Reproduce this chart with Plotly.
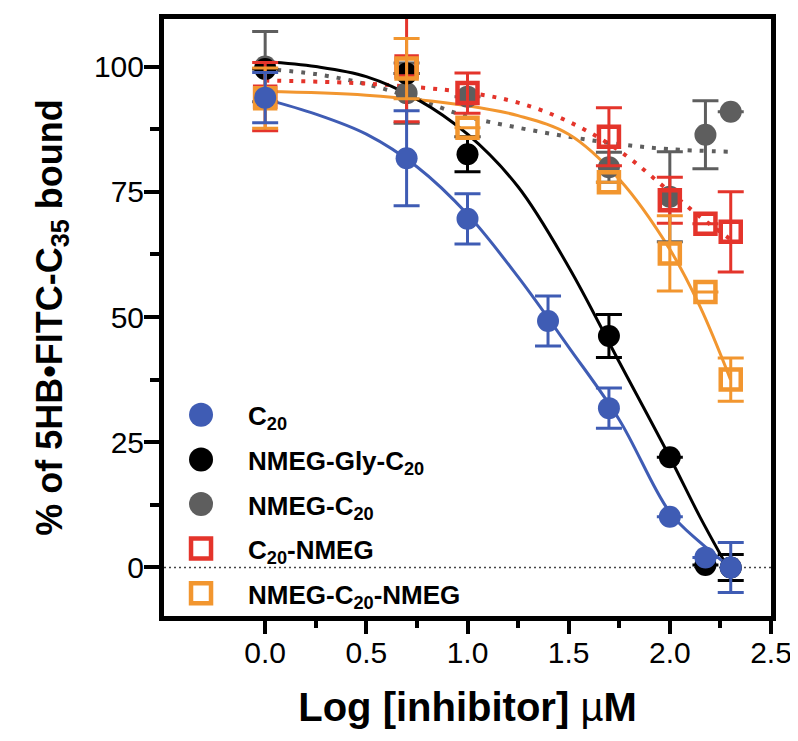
import plotly.graph_objects as go

# log concentrations (uM)
x_c20 = [0.0, 0.699, 1.0, 1.398, 1.699, 2.0, 2.176, 2.301]
x_other = [0.0, 0.699, 1.0, 1.699, 2.0, 2.176, 2.301]

# measured % bound and error
c20_y = [93.8, 81.7, 69.6, 49.2, 31.8, 10.1, 2.0, 0.0]
c20_err = [5, 9.5, 5, 5, 4, None, None, 5]
gly_y = [99.5, 98.6, 82.5, 46.2, 22.0, 0.5, 0.0]
gly_err = [None, None, 3.5, 4.3, None, None, 2.6]
nmeg_c20_y = [100.0, 94.7, 94.0, 79.9, 74.0, 86.4, 91.0]
nmeg_c20_err = [7, 6, None, 3, 9, 6.8, None]
c20_nmeg_y = [94.0, 100.0, 94.7, 86.0, 73.3, 68.6, 67.0]
c20_nmeg_err = [6.8, 11, 4, 5.8, 4.6, None, 8]
both_y = [93.7, 99.6, 87.8, 76.9, 62.7, 55.0, 37.5]
both_err = [6, 6, None, None, 7.5, None, 4.3]

# fitted curves
fit_x11 = [0, 0.25, 0.5, 0.75, 1.0, 1.25, 1.5, 1.75, 2.0, 2.15, 2.3]
fit_c20 = [93.5, 90.5, 86.5, 80.0, 70.5, 58.0, 44.0, 29.5, 11.0, 5.0, 0.0]
fit_gly = [101, 100, 98, 93.5, 86.5, 76, 60, 41, 22, 10, -1]
fit_x10 = [0, 0.25, 0.5, 0.75, 1.0, 1.25, 1.5, 1.75, 2.0, 2.3]
fit_nmeg_c20 = [99.5, 98.5, 96.5, 93.5, 90, 87.8, 86, 84.5, 83.5, 83]
fit_x9 = [0, 0.5, 1.0, 1.25, 1.5, 1.75, 2.0, 2.15, 2.3]
fit_c20_nmeg = [97.2, 96.6, 94.8, 92.8, 89, 83.2, 75, 70, 65.5]
fit_both = [95, 94.3, 92.2, 90.2, 86.5, 77.5, 63.5, 52, 37.5]

names = ["C<sub>20</sub>", "NMEG-Gly-C<sub>20</sub>", "NMEG-C<sub>20</sub>",
         "C<sub>20</sub>-NMEG", "NMEG-C<sub>20</sub>-NMEG"]
colors = ["#3f5cb4", "#000000", "#5e5e5e", "#e4342b", "#f2962f"]
symbols = ["circle", "circle", "circle", "square-open", "square-open"]

FONT = "Liberation Sans, Arial, sans-serif"

fig = go.Figure()

# fit curves
fits = [(fit_x10, fit_nmeg_c20, 2, "4px,8px"),
        (fit_x9, fit_c20_nmeg, 3, "4px,8px"),
        (fit_x9, fit_both, 4, "solid"),
        (fit_x11, fit_gly, 1, "solid"),
        (fit_x11, fit_c20, 0, "solid")]
for fx, fy, ci, dash in fits:
    fig.add_trace(go.Scatter(x=fx, y=fy, mode="lines", line_shape="spline",
                             line=dict(color=colors[ci], width=4 if dash != "solid" else 3,
                                       dash=dash),
                             showlegend=False, hoverinfo="skip"))

# data points
series = [(x_other, nmeg_c20_y, nmeg_c20_err, 2),
          (x_other, gly_y, gly_err, 1),
          (x_other, c20_nmeg_y, c20_nmeg_err, 3),
          (x_other, both_y, both_err, 4),
          (x_c20, c20_y, c20_err, 0)]
for sx, sy, se, ci in series:
    fig.add_trace(go.Scatter(
        x=sx, y=sy, mode="markers", name=names[ci],
        marker=dict(symbol=symbols[ci], color=colors[ci],
                    size=22 if symbols[ci] == "circle" else 20,
                    line=dict(width=4.5 if symbols[ci] != "circle" else 0, color=colors[ci])),
        error_y=dict(type="data", array=se, color=colors[ci], thickness=3, width=13),
        showlegend=False))

# zero line
fig.add_shape(type="line", xref="paper", x0=0, x1=1, yref="y", y0=0, y1=0,
              line=dict(color="#444444", width=1.5, dash="2px,3px"), layer="below")

# hand-made legend on an overlay axis (big markers)
leg_y = [0.337, 0.262, 0.1876, 0.1129, 0.0382]
for i in range(5):
    fig.add_trace(go.Scatter(
        x=[0.061], y=[leg_y[i]], xaxis="x2", yaxis="y2", mode="markers",
        marker=dict(symbol=symbols[i], color=colors[i],
                    size=24 if symbols[i] == "circle" else 20,
                    line=dict(width=4.5 if symbols[i] != "circle" else 0, color=colors[i])),
        showlegend=False, hoverinfo="skip"))
    fig.add_annotation(x=0.135, y=leg_y[i], xref="paper", yref="paper",
                       text="<b>" + names[i] + "</b>", showarrow=False,
                       xanchor="left", yanchor="middle", yshift=-3,
                       font=dict(family=FONT, size=26, color="black"))

axis_common = dict(showline=True, linewidth=5, linecolor="black", mirror=True,
                   ticks="outside", tickwidth=4, tickcolor="black",
                   showgrid=False, zeroline=False,
                   tickfont=dict(family=FONT, size=30, color="black"))

# page body has an 8px default margin, so the figure is 8px smaller than the window
fig.update_layout(
    width=790, height=733,
    margin=dict(l=156, r=27, t=6, b=125),
    plot_bgcolor="white", paper_bgcolor="white",
    showlegend=False,
    font=dict(family=FONT, color="black"),
    xaxis=dict(range=[-0.5, 2.5], tickvals=[0, 0.5, 1.0, 1.5, 2.0, 2.5],
               ticktext=["0.0", "0.5", "1.0", "1.5", "2.0", "2.5"], ticklen=13,
               ticklabelstandoff=-7,
               minor=dict(tickvals=[0.25, 0.75, 1.25, 1.75, 2.25], ticks="outside",
                          ticklen=7, tickwidth=4, tickcolor="black"),
               title=dict(text="<b>Log [inhibitor] </b>µ<b>M</b>",
                          font=dict(family=FONT, size=40), standoff=26),
               **axis_common),
    yaxis=dict(range=[-9.7, 109.5], tickvals=[0, 25, 50, 75, 100], ticklen=15,
               ticklabelstandoff=-6,
               minor=dict(tickvals=[12.5, 37.5, 62.5, 87.5], ticks="outside",
                          ticklen=9, tickwidth=4, tickcolor="black"),
               title=dict(text="<b>% of 5HB•FITC-C<sub>35</sub> bound</b>",
                          font=dict(family=FONT, size=36), standoff=22),
               **axis_common),
    xaxis2=dict(overlaying="x", range=[0, 1], visible=False),
    yaxis2=dict(overlaying="y", range=[0, 1], visible=False),
)

fig.write_html("out.html")
